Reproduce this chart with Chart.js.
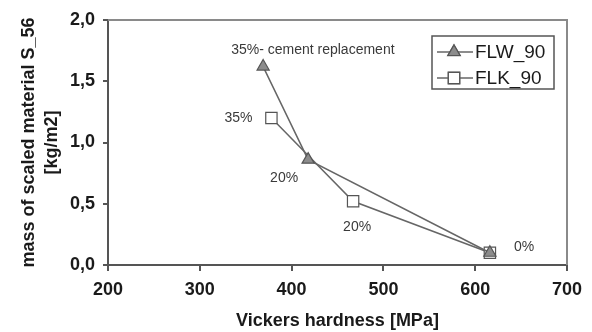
<!DOCTYPE html>
<html lang="en">
<head>
    <meta charset="UTF-8">
    <title>Vickers hardness</title>
    <script src="https://cdn.jsdelivr.net/npm/chart.js@4/dist/chart.umd.min.js"></script>
    <style>
        html, body { margin: 0; padding: 0; background: #fff; }
        #wrap { width: 592px; height: 332px; }
    </style>
</head>
<body>
<div id="wrap"><canvas id="main_chart"></canvas></div>
<script>
    // data
    const flwHardness = [369, 418, 616];
    const flwMass = [1.62, 0.86, 0.10];
    const flkHardness = [378, 467, 616];
    const flkMass = [1.20, 0.52, 0.10];
    const flwNotes = ['35%- cement replacement', '20%', ''];
    const flkNotes = ['35%', '20%', '0%'];
    const xTicks = [200, 300, 400, 500, 600, 700];
    const yTicks = [0, 0.5, 1.0, 1.5, 2.0];

    const FONT = "'Liberation Sans', Arial, sans-serif";
    const LINE_COLOR = '#666';

    // where each note sits relative to its point (pixels)
    const noteOffsets = {
        0: [[-32, -16, 'left'], [-24, 18, 'center'], [0, 0, 'left']],
        1: [[-19, 0, 'right'], [4, 26, 'center'], [24, -6, 'left']]
    };

    const notesPlugin = {
        id: 'notes',
        afterDatasetsDraw(chart) {
            const ctx = chart.ctx;
            ctx.save();
            ctx.font = '14px ' + FONT;
            ctx.fillStyle = '#3a3a3a';
            ctx.textBaseline = 'middle';
            [flwNotes, flkNotes].forEach((notes, di) => {
                const meta = chart.getDatasetMeta(di);
                notes.forEach((txt, i) => {
                    if (!txt) return;
                    const pt = meta.data[i];
                    const [dx, dy, align] = noteOffsets[di][i];
                    ctx.textAlign = align;
                    ctx.fillText(txt, pt.x + dx, pt.y + dy);
                });
            });
            ctx.restore();
        }
    };

    const framePlugin = {
        id: 'frame',
        beforeDatasetsDraw(chart) {
            const a = chart.chartArea;
            const ctx = chart.ctx;
            ctx.save();
            ctx.strokeStyle = '#8a8a8a';
            ctx.lineWidth = 2;
            ctx.beginPath();
            ctx.moveTo(a.left, a.top);
            ctx.lineTo(a.right, a.top);
            ctx.lineTo(a.right, a.bottom);
            ctx.stroke();
            ctx.restore();
        }
    };

    const legendPlugin = {
        id: 'boxLegend',
        afterDraw(chart) {
            const ctx = chart.ctx;
            const a = chart.chartArea;
            const x0 = a.right - 135, y0 = a.top + 16, w = 122, h = 53;
            ctx.save();
            ctx.fillStyle = '#fff';
            ctx.fillRect(x0, y0, w, h);
            ctx.strokeStyle = '#555';
            ctx.lineWidth = 1.5;
            ctx.strokeRect(x0, y0, w, h);
            chart.data.datasets.forEach((ds, i) => {
                const cy = y0 + 16 + i * 26;
                ctx.strokeStyle = LINE_COLOR;
                ctx.lineWidth = 1.5;
                ctx.beginPath();
                ctx.moveTo(x0 + 5, cy);
                ctx.lineTo(x0 + 41, cy);
                ctx.stroke();
                Chart.helpers.drawPoint(ctx, {
                    pointStyle: ds.pointStyle,
                    radius: ds.pointRadius,
                    borderWidth: ds.pointBorderWidth,
                    rotation: 0
                }, x0 + 22, cy);
                ctx.fillStyle = ds.pointBackgroundColor;
                ctx.strokeStyle = ds.pointBorderColor;
                ctx.lineWidth = ds.pointBorderWidth;
                ctx.fill();
                ctx.stroke();
                ctx.fillStyle = '#1a1a1a';
                ctx.font = '19px ' + FONT;
                ctx.textAlign = 'left';
                ctx.textBaseline = 'middle';
                ctx.fillText(ds.label, x0 + 43, cy + 1);
            });
            ctx.restore();
        }
    };

    const canvas = document.getElementById('main_chart').getContext('2d');
    const chart = new Chart(canvas, {
        type: 'scatter',
        data: {
            datasets: [{
                label: 'FLW_90',
                data: flwHardness.map((v, i) => ({x: v, y: flwMass[i]})),
                showLine: true,
                borderColor: LINE_COLOR,
                borderWidth: 1.5,
                pointStyle: 'triangle',
                pointRadius: 7,
                pointBackgroundColor: '#8c8c8c',
                pointBorderColor: '#555',
                pointBorderWidth: 1.2
            }, {
                label: 'FLK_90',
                data: flkHardness.map((v, i) => ({x: v, y: flkMass[i]})),
                showLine: true,
                borderColor: LINE_COLOR,
                borderWidth: 1.5,
                pointStyle: 'rect',
                pointRadius: 8,
                pointBackgroundColor: '#fff',
                pointBorderColor: '#555',
                pointBorderWidth: 1.2
            }]
        },
        options: {
            animation: false,
            responsive: true,
            maintainAspectRatio: false,
            layout: {padding: {left: 0, top: 20, right: 25, bottom: 0}},
            plugins: {legend: {display: false}, tooltip: {enabled: false}},
            scales: {
                x: {
                    type: 'linear',
                    min: 200, max: 700,
                    afterBuildTicks: s => { s.ticks = xTicks.map(v => ({value: v})); },
                    afterFit: s => { s.height = 67; },
                    border: {color: '#555', width: 2},
                    grid: {drawOnChartArea: false, drawTicks: true, tickLength: 6, color: '#555', lineWidth: 2},
                    ticks: {
                        color: '#1a1a1a', padding: 8,
                        font: {family: FONT, size: 18, weight: 'bold'}
                    },
                    title: {
                        display: true, text: 'Vickers hardness [MPa]', color: '#1a1a1a',
                        font: {family: FONT, size: 18, weight: 'bold'}, padding: {top: 3, bottom: 0}
                    }
                },
                y: {
                    type: 'linear',
                    min: 0, max: 2,
                    afterBuildTicks: s => { s.ticks = yTicks.map(v => ({value: v})); },
                    afterFit: s => { s.width = 108; },
                    border: {color: '#555', width: 2},
                    grid: {drawOnChartArea: false, drawTicks: true, tickLength: 5, color: '#555', lineWidth: 2},
                    ticks: {
                        color: '#1a1a1a', padding: 8,
                        font: {family: FONT, size: 18, weight: 'bold'},
                        callback: v => v.toFixed(1).replace('.', ',')
                    },
                    title: {
                        display: true, text: ['mass of scaled material S_56', '[kg/m2]'], color: '#1a1a1a',
                        font: {family: FONT, size: 18, weight: 'bold', lineHeight: 1.3}, padding: {top: 17, bottom: 0}
                    }
                }
            }
        },
        plugins: [framePlugin, notesPlugin, legendPlugin]
    });
</script>
</body>
</html>
